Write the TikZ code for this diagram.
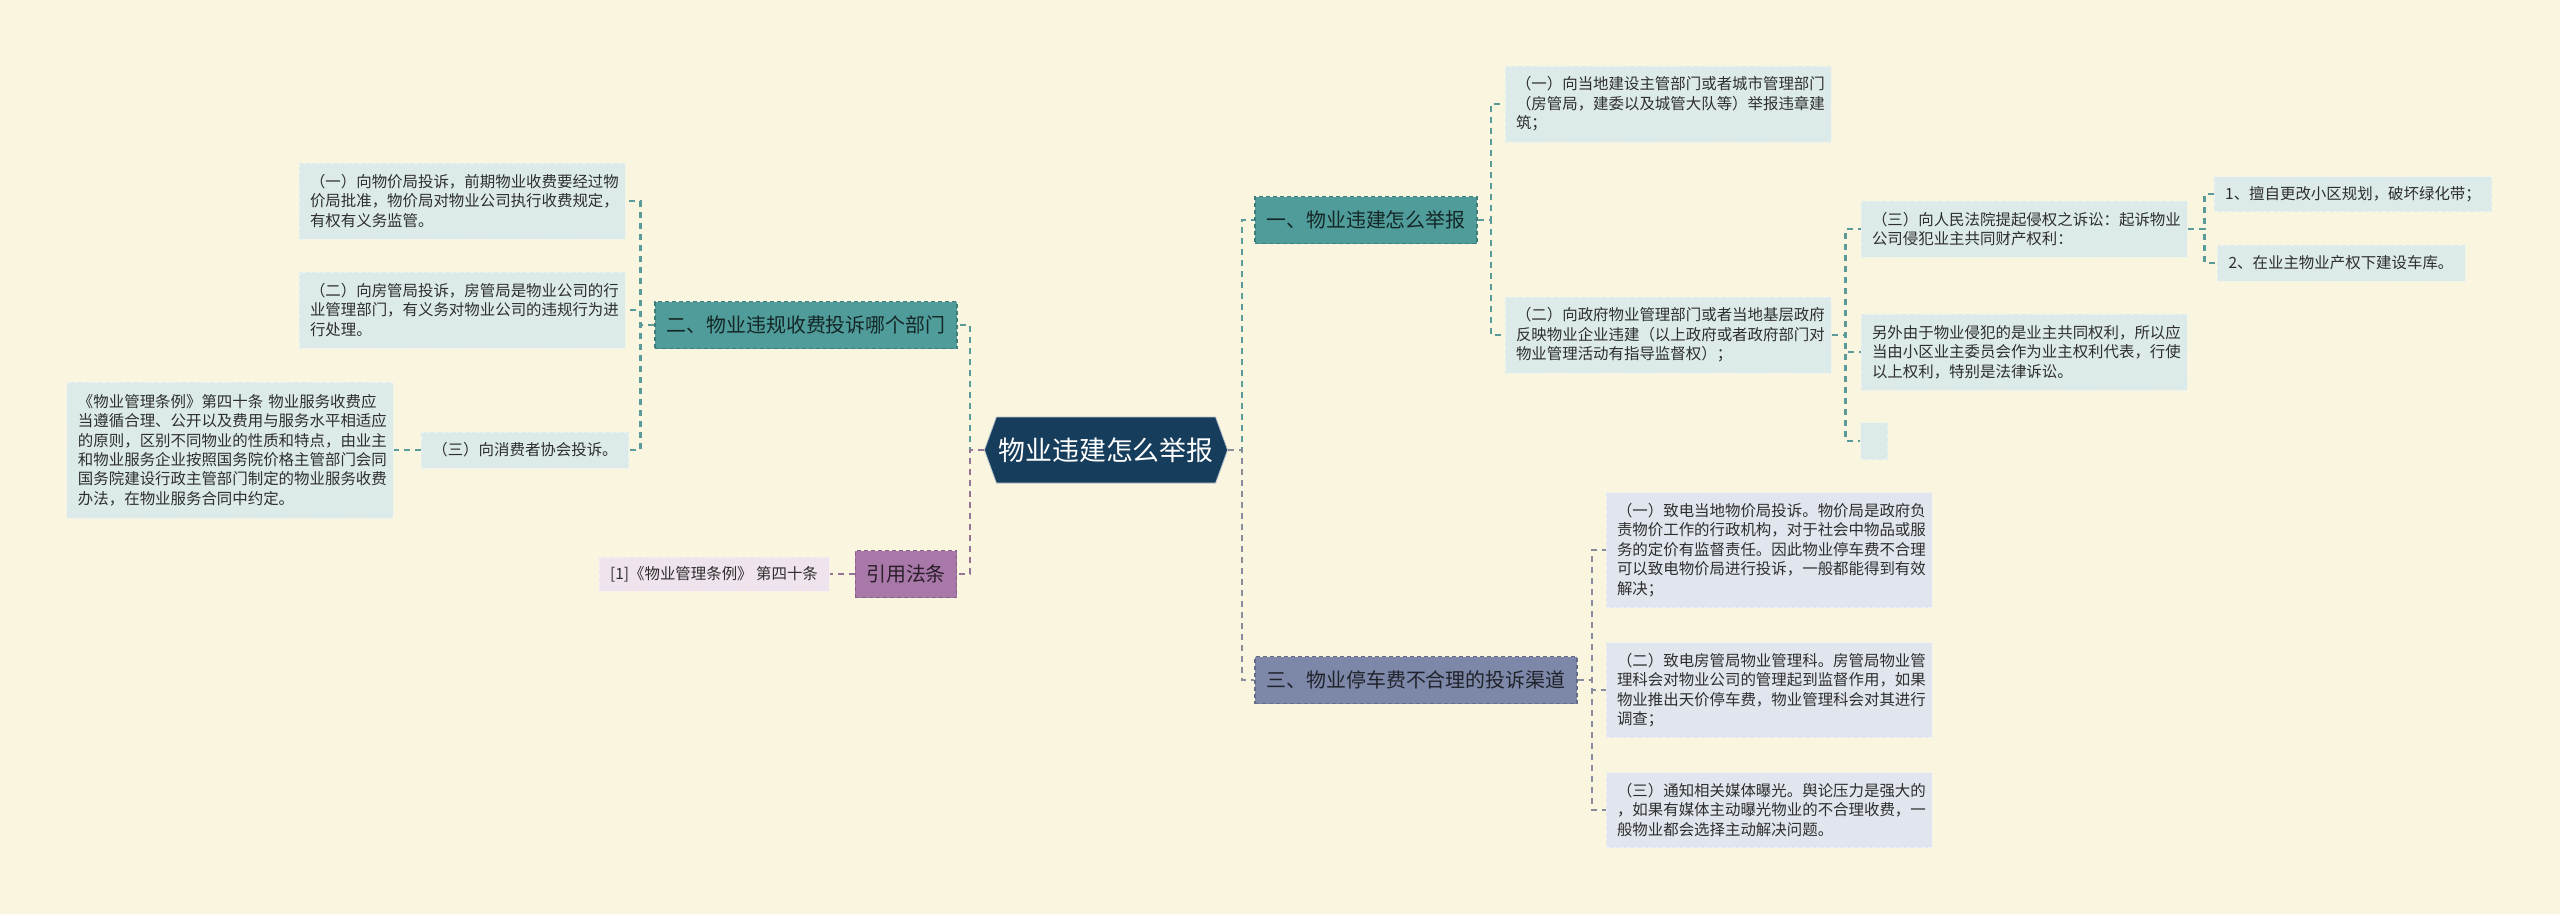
\documentclass[tikz,border=0pt]{standalone}
\usepackage{fontspec}
\setmainfont{Noto Sans CJK SC}
\usetikzlibrary{shapes.symbols}
\definecolor{paper}{HTML}{FAF5DF}
\definecolor{navy}{HTML}{173D5C}
\definecolor{tealbox}{HTML}{4F9C9A}
\definecolor{teallight}{HTML}{DCEBE9}
\definecolor{tealwirecol}{HTML}{5A9A98}
\definecolor{plumbox}{HTML}{A878A8}
\definecolor{plumlight}{HTML}{EFE3EE}
\definecolor{plumwirecol}{HTML}{967496}
\definecolor{slatebox}{HTML}{7D88A8}
\definecolor{slatelight}{HTML}{E1E6EE}
\definecolor{slatewirecol}{HTML}{888C9C}
\definecolor{ink}{HTML}{2E2E2E}
\begin{document}
\begin{tikzpicture}[x=1bp,y=-1bp,
 root/.style={signal,signal to=west and east,signal pointer angle=140,fill=navy,draw=white!70!navy,line width=0.8bp,
  text=white,font=\fontsize{27}{32}\selectfont,minimum width=242bp,minimum height=66bp,inner xsep=2bp},
 branch/.style={rectangle,draw,dashed,dash pattern=on 4bp off 3bp,line width=1.2bp,minimum height=47bp,inner xsep=11bp,
  font=\fontsize{20}{24}\selectfont},
 tealbranch/.style={branch,fill=tealbox,draw=tealbox!80!black,text=tealbox!25!black},
 plumbranch/.style={branch,fill=plumbox,draw=plumbox!80!black,text=plumbox!25!black},
 slatebranch/.style={branch,fill=slatebox,draw=slatebox!80!black,text=slatebox!25!black},
 leaf/.style={rectangle,draw,dashed,dash pattern=on 4bp off 3bp,line width=1bp,inner xsep=11bp,inner ysep=8bp,
  text=ink,font=\fontsize{15.5}{19.5}\selectfont},
 para/.style={leaf,text width=304bp,align=left},
 tealleaf/.style={fill=teallight,draw=white!45!teallight},
 plumleaf/.style={fill=plumlight,draw=white!45!plumlight},
 slateleaf/.style={fill=slatelight,draw=white!45!slatelight},
 wire/.style={dashed,dash pattern=on 6bp off 5bp,line width=2.2bp},
 tealwire/.style={wire,draw=tealwirecol},
 plumwire/.style={wire,draw=plumwirecol},
 slatewire/.style={wire,draw=slatewirecol}]
\useasboundingbox (0,0) rectangle (2560,914);
\fill[paper] (0,0) rectangle (2560,914);
\node[root] (ctr) at (1106,450) {物业违建怎么举报};
\node[tealbranch,minimum width=302bp] (b2) at (806,325) {二、物业违规收费投诉哪个部门};
\node[para,tealleaf,minimum height=76bp] (l1) at (462,201) {（一）向物价局投诉，前期物业收费要经过物\\价局批准，物价局对物业公司执行收费规定，\\有权有义务监管。};
\node[para,tealleaf,minimum height=76bp] (l2) at (462,310) {（二）向房管局投诉，房管局是物业公司的行\\业管理部门，有义务对物业公司的违规行为进\\行处理。};
\node[leaf,tealleaf,minimum width=204bp,minimum height=36bp] (l3) at (525,450) {（三）向消费者协会投诉。};
\node[para,tealleaf,minimum height=136bp] (l4) at (230,450) {《物业管理条例》第四十条 物业服务收费应\\当遵循合理、公开以及费用与服务水平相适应\\的原则，区别不同物业的性质和特点，由业主\\和物业服务企业按照国务院价格主管部门会同\\国务院建设行政主管部门制定的物业服务收费\\办法，在物业服务合同中约定。};
\node[plumbranch,minimum width=101bp] (law) at (906,574) {引用法条};
\node[leaf,plumleaf,minimum width=230bp,minimum height=34bp] (ref) at (714,574) {[1]《物业管理条例》 第四十条};
\node[tealbranch,minimum width=222bp] (b1) at (1366,220) {一、物业违建怎么举报};
\node[para,tealleaf,minimum height=76bp] (r1) at (1668,104) {（一）向当地建设主管部门或者城市管理部门\\（房管局，建委以及城管大队等）举报违章建\\筑；};
\node[para,tealleaf,minimum height=76bp] (r2) at (1668,335) {（二）向政府物业管理部门或者当地基层政府\\反映物业企业违建（以上政府或者政府部门对\\物业管理活动有指导监督权）；};
\node[para,tealleaf,minimum height=56bp] (r2a) at (2024,229) {（三）向人民法院提起侵权之诉讼：起诉物业\\公司侵犯业主共同财产权利：};
\node[leaf,tealleaf,minimum width=273bp,minimum height=35bp] (r2a1) at (2353,194) {1、擅自更改小区规划，破坏绿化带；};
\node[leaf,tealleaf,minimum width=248bp,minimum height=36bp] (r2a2) at (2341,263) {2、在业主物业产权下建设车库。};
\node[para,tealleaf,minimum height=76bp] (r2b) at (2024,352) {另外由于物业侵犯的是业主共同权利，所以应\\当由小区业主委员会作为业主权利代表，行使\\以上权利，特别是法律诉讼。};
\node[leaf,tealleaf,minimum width=27bp,minimum height=37bp,inner sep=0pt] (r2c) at (1874,441) {};
\node[slatebranch,minimum width=322bp] (b3) at (1416,680) {三、物业停车费不合理的投诉渠道};
\node[para,slateleaf,minimum height=115bp] (r3a) at (1769,550) {（一）致电当地物价局投诉。物价局是政府负\\责物价工作的行政机构，对于社会中物品或服\\务的定价有监督责任。因此物业停车费不合理\\可以致电物价局进行投诉，一般都能得到有效\\解决；};
\node[para,slateleaf,minimum height=95bp] (r3b) at (1769,690) {（二）致电房管局物业管理科。房管局物业管\\理科会对物业公司的管理起到监督作用，如果\\物业推出天价停车费，物业管理科会对其进行\\调查；};
\node[para,slateleaf,minimum height=75bp] (r3c) at (1769,810) {（三）通知相关媒体曝光。舆论压力是强大的\\，如果有媒体主动曝光物业的不合理收费，一\\般物业都会选择主动解决问题。};
\draw[tealwire] (ctr.west) -- ++(-14,0) |- (b2.east);
\draw[plumwire] (ctr.west) -- ++(-14,0) |- (law.east);
\draw[tealwire] (ctr.east) -- ++(14,0) |- (b1.west);
\draw[slatewire] (ctr.east) -- ++(14,0) |- (b3.west);
\draw[tealwire] (b2.west) -- ++(-14,0) |- (l1.east);
\draw[tealwire] (b2.west) -- ++(-14,0) |- (l2.east);
\draw[tealwire] (b2.west) -- ++(-14,0) |- (l3.east);
\draw[tealwire] (l3.west) -- (l4.east);
\draw[plumwire] (law.west) -- (ref.east);
\draw[tealwire] (b1.east) -- ++(13,0) |- (r1.west);
\draw[tealwire] (b1.east) -- ++(13,0) |- (r2.west);
\draw[tealwire] (r2.east) -- ++(14,0) |- (r2a.west);
\draw[tealwire] (r2.east) -- ++(14,0) |- (r2b.west);
\draw[tealwire] (r2.east) -- ++(14,0) |- (r2c.west);
\draw[tealwire] (r2a.east) -- ++(17,0) |- (r2a1.west);
\draw[tealwire] (r2a.east) -- ++(17,0) |- (r2a2.west);
\draw[slatewire] (b3.east) -- ++(14,0) |- (r3a.west);
\draw[slatewire] (b3.east) -- ++(14,0) |- (r3b.west);
\draw[slatewire] (b3.east) -- ++(14,0) |- (r3c.west);
\end{tikzpicture}
\end{document}
